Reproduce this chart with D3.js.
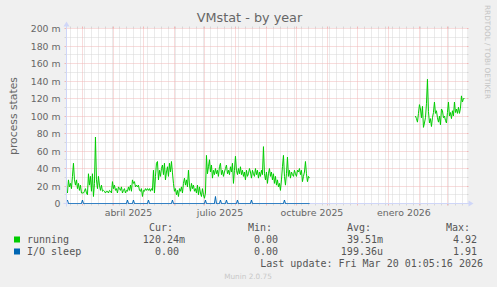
<!DOCTYPE html>
<html><head><meta charset="utf-8">
<script src="https://cdn.jsdelivr.net/npm/d3@7"></script>
<style>
html,body{margin:0;padding:0;background:#f0f0f0;}
svg{display:block;}
text{font-family:"DejaVu Sans",sans-serif;}
.mono{font-family:"DejaVu Sans Mono",monospace;white-space:pre;}
</style></head><body>
<svg id="chart" width="497" height="287"></svg>
<script>
// ---------- data ----------
const chartTitle = "VMstat - by year";
const yAxisTitle = "process states";
const endTime = new Date(2026, 2, 20, 1, 5, 16);
const spanDays = 400;

const yTickValues = [0, 20, 40, 60, 80, 100, 120, 140, 160, 180, 200];           // in milli
const yTickLabels = ["0", "20 m", "40 m", "60 m", "80 m", "100 m", "120 m", "140 m", "160 m", "180 m", "200 m"];

const xLabelMonths = [new Date(2025, 3, 1), new Date(2025, 6, 1), new Date(2025, 9, 1), new Date(2026, 0, 1)];
const xLabelTexts = ["abril 2025", "julio 2025", "octubre 2025", "enero 2026"];

// running (milli), one value per day
const runningStart1 = new Date(2025, 1, 14);
const running1 = [
  12, 27, 19, 23, 17, 31, 46, 27, 21, 27, 17, 23, 15, 21, 12, 12, 12, 14, 17, 12,
  10, 34, 21, 31, 14, 34, 8, 23, 76, 27, 17, 31, 21, 15, 21, 14, 15, 14, 12, 14,
  14, 12, 15, 14, 12, 25, 17, 21, 15, 17, 12, 19, 17, 15, 19, 12, 15, 17, 12, 15, 14,
  19, 15, 21, 14, 27, 23, 25, 19, 21, 19, 21, 15, 14, 17, 8, 15, 14, 17, 15, 17,
  15, 17, 14, 17, 15, 38, 12, 31, 46, 48, 27, 38, 31, 40, 44, 33, 46, 27, 36, 42,
  31, 46, 36, 48, 35, 23, 14, 17, 10, 15, 8, 17, 14, 19, 12, 23, 29, 21, 27, 19, 38,
  21, 14, 23, 17, 21, 14, 17, 12, 21, 10, 19, 12, 8, 17, 10, 6, 12, 55, 34, 42,
  50, 36, 44, 29, 38, 33, 40, 34, 38, 31, 42, 46, 33, 38, 31, 36, 40, 44, 34, 38,
  33, 42, 36, 46, 23, 38, 54, 38, 33, 40, 34, 42, 33, 38, 31, 36, 27, 38, 31, 34, 40,
  36, 29, 38, 34, 31, 40, 33, 38, 29, 36, 31, 38, 33, 65, 34, 27, 36, 23, 34, 40,
  31, 36, 27, 34, 23, 31, 21, 27, 19, 23, 15, 27, 42, 55, 31, 21, 34, 53, 31, 38,
  29, 36, 33, 31, 38, 34, 31, 38, 36, 40, 33, 38, 25, 31, 36, 48, 34, 25, 31, 29
];
const runningStart2 = new Date(2026, 0, 28);
const running2 = [
  100, 97, 93, 103, 113, 108, 98, 111, 87, 92, 98, 114, 142, 105, 92, 97, 88, 98, 104, 116,
  103, 106, 98, 93, 100, 90, 108, 106, 98, 100, 95, 92, 104, 116, 100, 104, 97, 106, 100, 116,
  104, 108, 103, 110, 103, 109, 123, 116, 120, 120
];

// I/O sleep (milli): drawn over the first period only, zero except these days (offset from runningStart1)
const ioSpikeDays = [0, 15, 60, 66, 81, 105, 138, 148, 153, 159, 170, 184, 217];
const ioSpikeValues = [4, 4, 4, 4, 4, 4, 4, 8, 4, 4, 4, 4, 4];

const seriesNames = ["running", "I/O sleep"];
const seriesColors = ["#00cc00", "#0066b3"];
const curVals = ["120.24m", "0.00 "];
const minVals = ["0.00 ", "0.00 "];
const avgVals = ["39.51m", "199.36u"];
const maxVals = ["4.92 ", "1.91 "];
const lastUpdate = "Last update: Fri Mar 20 01:05:16 2026";
const footer = "Munin 2.0.75";
const watermark = "RRDTOOL / TOBI OETIKER";

// ---------- build series ----------
function seg(start, vals) { return vals.map((v, i) => ({date: d3.timeDay.offset(start, i), v})); }
const runSegs = [seg(runningStart1, running1), seg(runningStart2, running2)];
const io1 = running1.map(() => 0);
ioSpikeDays.forEach((d, i) => { io1[d] = ioSpikeValues[i]; });
const ioSegs = [seg(runningStart1, io1)];

// ---------- draw ----------
const svg = d3.select("#chart");
const X0 = 66.5, X1 = 466.5, Y0 = 203.5, Y1 = 28.5;
const x = d3.scaleTime().domain([d3.timeDay.offset(endTime, -spanDays), endTime]).range([X0, X1]);
const y = d3.scaleLinear().domain([0, 200]).range([Y0, Y1]);
const px = v => Math.round(v - 0.5) + 0.5;

svg.append("rect").attr("width", 497).attr("height", 287).attr("fill", "#f0f0f0");
svg.append("rect").attr("x", 66).attr("y", 28).attr("width", 401).attr("height", 176).attr("fill", "#ffffff");

const minorCol = "#d6d6d6", majorCol = "#f0b8b8";
const g = svg.append("g");
// horizontal minor grid (every 10)
const hMinor = d3.range(10, 200, 20);
hMinor.forEach(v => {
  const yy = px(y(v));
  g.append("line").attr("x1", X0).attr("x2", X1).attr("y1", yy).attr("y2", yy)
    .attr("stroke", minorCol).attr("stroke-dasharray", "1,1");
  g.append("line").attr("x1", X0 - 2).attr("x2", X0).attr("y1", yy).attr("y2", yy).attr("stroke", minorCol);
  g.append("line").attr("x1", X1).attr("x2", X1 + 2).attr("y1", yy).attr("y2", yy).attr("stroke", minorCol);
});
// vertical minor grid (weekly)
const [t0, t1] = x.domain();
d3.timeMonday.range(t0, t1).forEach(d => {
  if (d.getDate() === 1) return;
  const xx = px(x(d));
  g.append("line").attr("x1", xx).attr("x2", xx).attr("y1", Y1).attr("y2", Y0)
    .attr("stroke", minorCol).attr("stroke-dasharray", "1,1");
  g.append("line").attr("x1", xx).attr("x2", xx).attr("y1", Y0).attr("y2", Y0 + 2).attr("stroke", minorCol);
  g.append("line").attr("x1", xx).attr("x2", xx).attr("y1", Y1 - 2).attr("y2", Y1).attr("stroke", minorCol);
});
// horizontal major grid
yTickValues.forEach(v => {
  if (v === 0) return;
  const yy = px(y(v));
  g.append("line").attr("x1", X0).attr("x2", X1).attr("y1", yy).attr("y2", yy)
    .attr("stroke", majorCol).attr("stroke-dasharray", "1,1");
  g.append("line").attr("x1", X0 - 2).attr("x2", X0).attr("y1", yy).attr("y2", yy).attr("stroke", majorCol);
  g.append("line").attr("x1", X1).attr("x2", X1 + 2).attr("y1", yy).attr("y2", yy).attr("stroke", majorCol);
});
// vertical major grid (monthly)
d3.timeMonth.range(t0, t1).forEach(d => {
  const xx = px(x(d));
  g.append("line").attr("x1", xx).attr("x2", xx).attr("y1", Y1).attr("y2", Y0)
    .attr("stroke", majorCol).attr("stroke-dasharray", "1,1");
  g.append("line").attr("x1", xx).attr("x2", xx).attr("y1", Y0).attr("y2", Y0 + 2).attr("stroke", majorCol);
  g.append("line").attr("x1", xx).attr("x2", xx).attr("y1", Y1 - 2).attr("y2", Y1).attr("stroke", majorCol);
});

// axes
const axisCol = "#cfd6f8";
svg.append("line").attr("x1", X0).attr("x2", X0).attr("y1", Y0 + 3).attr("y2", Y1 - 3).attr("stroke", axisCol);
svg.append("line").attr("x1", X0 - 3).attr("x2", X1 + 4).attr("y1", Y0).attr("y2", Y0).attr("stroke", axisCol);
svg.append("path").attr("d", `M${X0 - 3},${Y1 - 2}L${X0 + 3},${Y1 - 2}L${X0},${Y1 - 7}Z`).attr("fill", axisCol);
svg.append("path").attr("d", `M${X1 + 2},${Y0 - 3}L${X1 + 2},${Y0 + 3}L${X1 + 7},${Y0}Z`).attr("fill", axisCol);

// data lines
const line = d3.line().x(d => x(d.date)).y(d => y(d.v));
runSegs.forEach(s => svg.append("path").attr("d", line(s)).attr("fill", "none")
  .attr("stroke", seriesColors[0]).attr("stroke-width", 1));
ioSegs.forEach(s => svg.append("path").attr("d", line(s)).attr("fill", "none")
  .attr("stroke", seriesColors[1]).attr("stroke-width", 1));

// text
const fontCol = "#666666";
svg.append("text").attr("x", 249.5).attr("y", 22).attr("text-anchor", "middle")
  .attr("font-size", 12.8).attr("fill", fontCol).text(chartTitle);
yTickValues.forEach((v, i) => {
  svg.append("text").attr("x", 60.5).attr("y", px(y(v)) + 3.5).attr("text-anchor", "end")
    .attr("font-size", 9.3).attr("fill", fontCol).text(yTickLabels[i]);
});
xLabelMonths.forEach((d, i) => {
  const mid = new Date((+d + +d3.timeMonth.offset(d, 1)) / 2);
  svg.append("text").attr("x", x(mid)).attr("y", 215.5).attr("text-anchor", "middle")
    .attr("font-size", 9.4).attr("fill", fontCol).text(xLabelTexts[i]);
});
svg.append("text").attr("transform", `translate(17,${(Y0 + Y1) / 2}) rotate(-90)`)
  .attr("text-anchor", "middle").attr("font-size", 10.8).attr("fill", fontCol).text(yAxisTitle);
svg.append("text").attr("transform", "translate(485,5) rotate(90)")
  .attr("font-size", 7.3).attr("fill", "#c4c4c4").text(watermark);

// legend
const legCol = "#555555";
const hdrY = 230.5, rowY = [242.5, 254.5];
[["Cur:", 173], ["Min:", 272], ["Avg:", 371], ["Max:", 470]].forEach(([t, xx]) => {
  svg.append("text").attr("class", "mono").attr("x", xx).attr("y", hdrY).attr("text-anchor", "end")
    .attr("font-size", 10).attr("fill", legCol).text(t);
});
seriesNames.forEach((n, i) => {
  svg.append("rect").attr("x", 14).attr("y", rowY[i] - 6).attr("width", 6).attr("height", 6).attr("fill", seriesColors[i]);
  svg.append("text").attr("class", "mono").attr("x", 27).attr("y", rowY[i])
    .attr("font-size", 10).attr("fill", legCol).text(n);
  [[curVals, 185], [minVals, 284], [avgVals, 383], [maxVals, 483]].forEach(([arr, xx]) => {
    svg.append("text").attr("class", "mono").attr("x", xx).attr("y", rowY[i]).attr("text-anchor", "end")
      .attr("xml:space", "preserve").attr("font-size", 10).attr("fill", legCol).text(arr[i]);
  });
});
svg.append("text").attr("class", "mono").attr("x", 483).attr("y", 266.5).attr("text-anchor", "end")
  .attr("font-size", 10).attr("fill", legCol).text(lastUpdate);
svg.append("text").attr("x", 248).attr("y", 279).attr("text-anchor", "middle")
  .attr("font-size", 7.3).attr("fill", "#c8c8c8").text(footer);
</script></body></html>
